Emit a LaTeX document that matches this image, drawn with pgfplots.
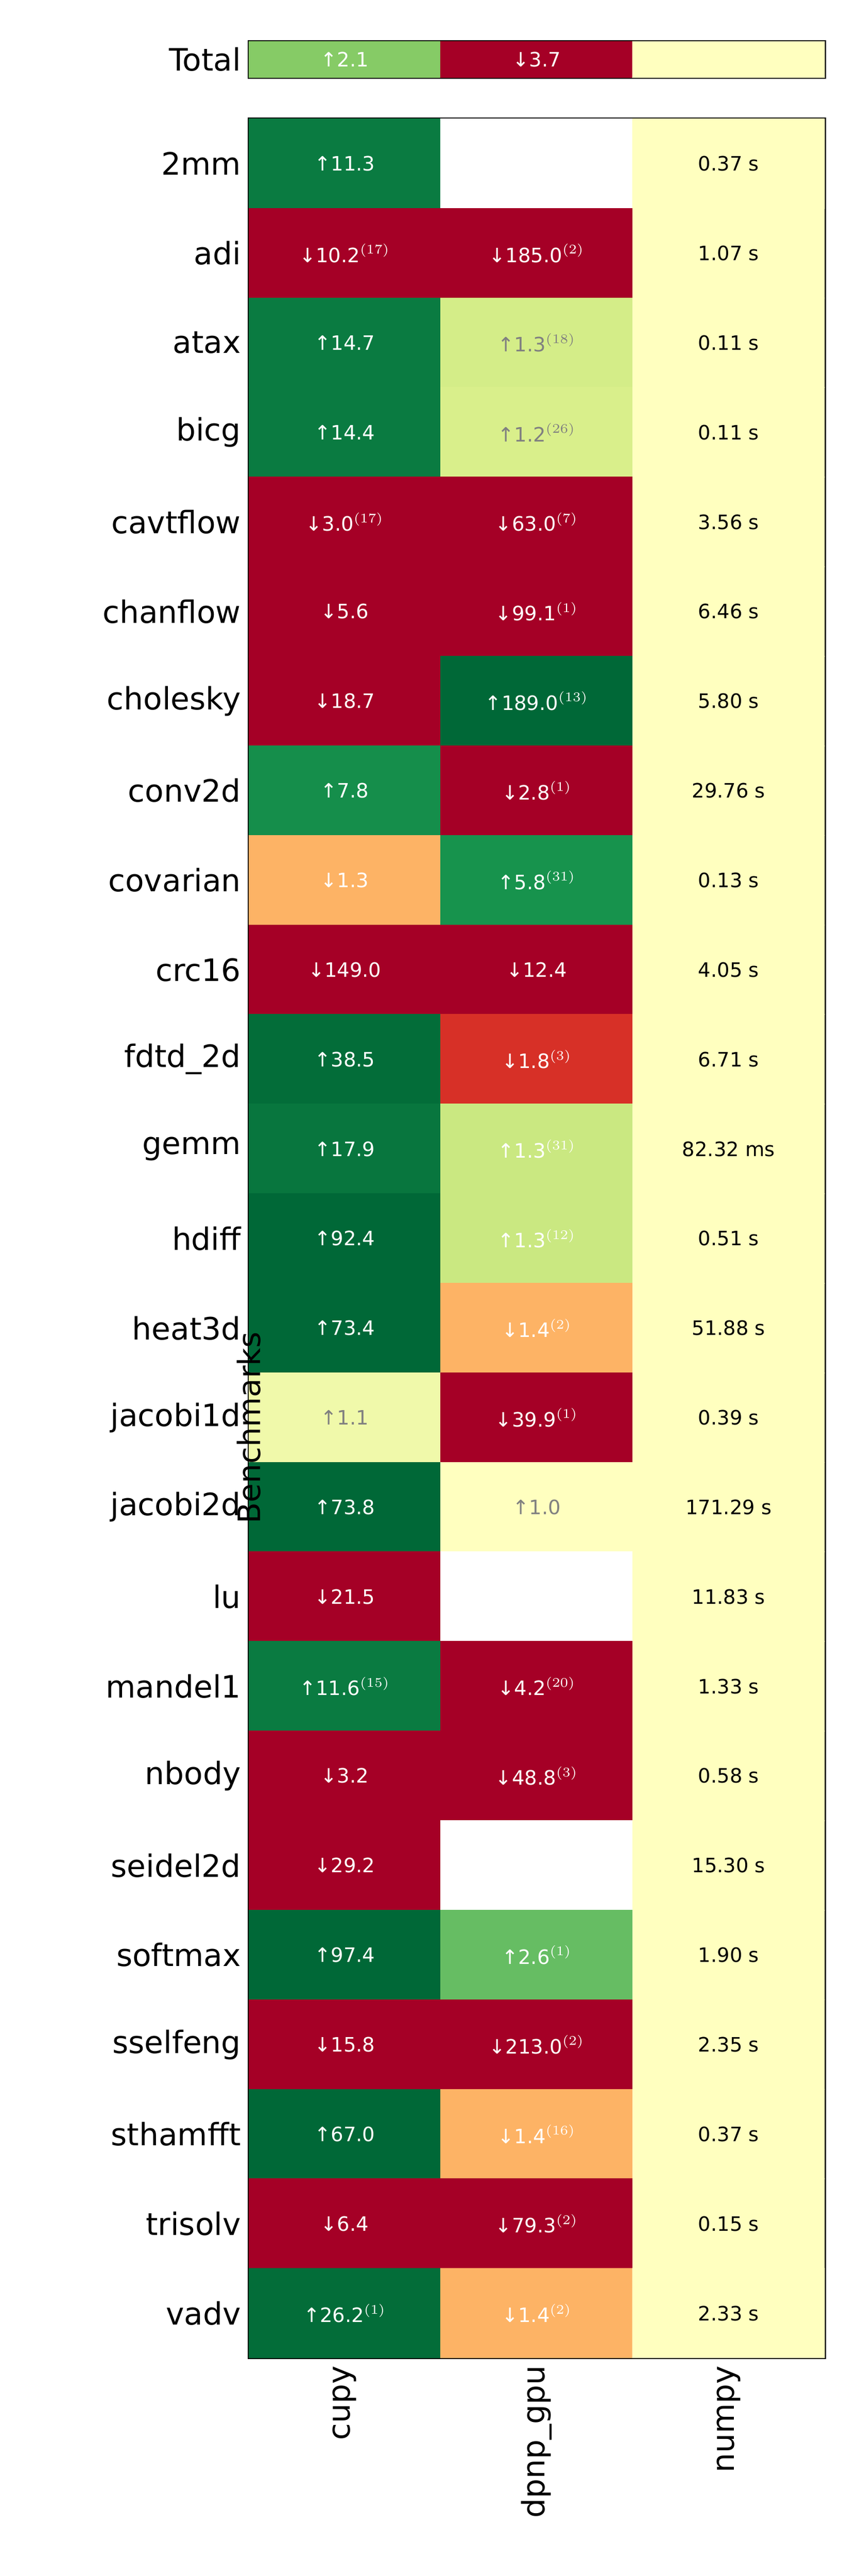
\documentclass[border=0pt]{standalone}
\usepackage{pgfplots}
\pgfplotsset{compat=1.18}
\usepackage{fontspec}
\setmainfont{DejaVu Sans}
\definecolor{txtgray}{RGB}{128,128,128}
\pgfplotsset{
  colormap={rdylgnw}{
    rgb255(0)=(165,0,38) rgb255(100)=(215,48,39) rgb255(200)=(244,109,67)
    rgb255(300)=(253,174,97) rgb255(400)=(254,224,139) rgb255(500)=(255,255,191)
    rgb255(600)=(217,239,139) rgb255(700)=(166,217,106) rgb255(800)=(102,189,99)
    rgb255(900)=(26,152,80) rgb255(1000)=(0,104,55)
    rgb255(1001)=(255,255,255) rgb255(1100)=(255,255,255)},
  common/.style={scale only axis, width=261.7pt,
    xmin=-0.5, xmax=2.5, y dir=reverse,
    tick align=inside, xtick pos=both, ytick pos=both,
    major tick length=6pt, tick style={black, line width=0.8pt},
    axis line style={line width=1.1pt},
    point meta min=0, point meta max=1.1,
    colormap name=rdylgnw,
    tick label style={font=\fontsize{14}{16}\selectfont},
    xtick={0,1,2}},
  cell/.style={only marks, mark=none, nodes near coords, point meta=explicit symbolic,
    nodes near coords align=center,
    every node near coord/.append style={font=\fontsize{9}{10}\selectfont, text=#1}},
}
\begin{document}
\begin{tikzpicture}
\useasboundingbox (-113pt,-99pt) rectangle (277.1pt,1071pt);
\begin{axis}[common, height=1017pt, ymin=-0.5, ymax=24.5,
  ytick={0,...,24},
  yticklabels={2mm,adi,atax,bicg,cavtflow,chanflow,cholesky,conv2d,covarian,crc16,fdtd\_2d,gemm,hdiff,heat3d,jacobi1d,jacobi2d,lu,mandel1,nbody,seidel2d,softmax,sselfeng,sthamfft,trisolv,vadv},
  xticklabels={cupy,dpnp\_gpu,numpy},
  xticklabel style={rotate=90, anchor=east},
  ylabel={Benchmarks},
  ylabel style={font=\fontsize{14}{16}\selectfont, at={(axis description cs:0,0.5)}, xshift=-86pt, anchor=center},
]
\addplot[matrix plot*, mesh/cols=3, point meta=explicit] table[meta=m]{
x y m
0 0 0.96
1 0 1.1
2 0 0.5
0 1 0
1 1 0
2 1 0.5
0 2 0.96
1 2 0.61
2 2 0.5
0 3 0.96
1 3 0.6
2 3 0.5
0 4 0
1 4 0
2 4 0.5
0 5 0
1 5 0
2 5 0.5
0 6 0
1 6 1.0
2 6 0.5
0 7 0.92
1 7 0
2 7 0.5
0 8 0.31
1 8 0.91
2 8 0.5
0 9 0
1 9 0
2 9 0.5
0 10 0.99
1 10 0.1
2 10 0.5
0 11 0.97
1 11 0.63
2 11 0.5
0 12 1.0
1 12 0.63
2 12 0.5
0 13 1.0
1 13 0.31
2 13 0.5
0 14 0.54
1 14 0
2 14 0.5
0 15 1.0
1 15 0.5
2 15 0.5
0 16 0
1 16 1.1
2 16 0.5
0 17 0.96
1 17 0
2 17 0.5
0 18 0
1 18 0
2 18 0.5
0 19 0
1 19 1.1
2 19 0.5
0 20 1.0
1 20 0.8
2 20 0.5
0 21 0
1 21 0
2 21 0.5
0 22 1.0
1 22 0.31
2 22 0.5
0 23 0
1 23 0
2 23 0.5
0 24 0.99
1 24 0.31
2 24 0.5
};
\addplot[cell=white] coordinates {
(0,0) [↑11.3] (0,1) [{↓10.2$^{(17)}$}] (0,2) [↑14.7] (0,3) [↑14.4]
(0,4) [{↓3.0$^{(17)}$}] (0,5) [↓5.6] (0,6) [↓18.7] (0,7) [↑7.8]
(0,8) [↓1.3] (0,9) [↓149.0] (0,10) [↑38.5] (0,11) [↑17.9] (0,12) [↑92.4]
(0,13) [↑73.4] (0,15) [↑73.8] (0,16) [↓21.5] (0,17) [{↑11.6$^{(15)}$}]
(0,18) [↓3.2] (0,19) [↓29.2] (0,20) [↑97.4] (0,21) [↓15.8] (0,22) [↑67.0]
(0,23) [↓6.4] (0,24) [{↑26.2$^{(1)}$}]
(1,1) [{↓185.0$^{(2)}$}] (1,4) [{↓63.0$^{(7)}$}] (1,5) [{↓99.1$^{(1)}$}]
(1,6) [{↑189.0$^{(13)}$}] (1,7) [{↓2.8$^{(1)}$}] (1,8) [{↑5.8$^{(31)}$}]
(1,9) [↓12.4] (1,10) [{↓1.8$^{(3)}$}] (1,11) [{↑1.3$^{(31)}$}] (1,12) [{↑1.3$^{(12)}$}]
(1,13) [{↓1.4$^{(2)}$}] (1,14) [{↓39.9$^{(1)}$}] (1,17) [{↓4.2$^{(20)}$}]
(1,18) [{↓48.8$^{(3)}$}] (1,20) [{↑2.6$^{(1)}$}] (1,21) [{↓213.0$^{(2)}$}]
(1,22) [{↓1.4$^{(16)}$}] (1,23) [{↓79.3$^{(2)}$}] (1,24) [{↓1.4$^{(2)}$}]
};
\addplot[cell=txtgray] coordinates {
(1,2) [{↑1.3$^{(18)}$}] (1,3) [{↑1.2$^{(26)}$}] (0,14) [↑1.1] (1,15) [↑1.0]
};
\addplot[cell=black] coordinates {
(2,0) [0.37 s] (2,1) [1.07 s] (2,2) [0.11 s] (2,3) [0.11 s] (2,4) [3.56 s]
(2,5) [6.46 s] (2,6) [5.80 s] (2,7) [29.76 s] (2,8) [0.13 s] (2,9) [4.05 s]
(2,10) [6.71 s] (2,11) [82.32 ms] (2,12) [0.51 s] (2,13) [51.88 s] (2,14) [0.39 s]
(2,15) [171.29 s] (2,16) [11.83 s] (2,17) [1.33 s] (2,18) [0.58 s] (2,19) [15.30 s]
(2,20) [1.90 s] (2,21) [2.35 s] (2,22) [0.37 s] (2,23) [0.15 s] (2,24) [2.33 s]
};
\end{axis}
\begin{axis}[common, at={(0pt,1035.75pt)}, anchor=south west, height=16.5pt,
  ymin=-0.5, ymax=0.5, ytick={0}, yticklabels={Total}, xticklabels={}]
\addplot[matrix plot*, mesh/cols=3, point meta=explicit] table[meta=m]{
x y m
0 0 0.75
1 0 0
2 0 0.5
0 1 0.75
1 1 0
2 1 0.5
};
\addplot[cell=white] coordinates {(0,0) [↑2.1] (1,0) [↓3.7]};
\end{axis}
\end{tikzpicture}
\end{document}
